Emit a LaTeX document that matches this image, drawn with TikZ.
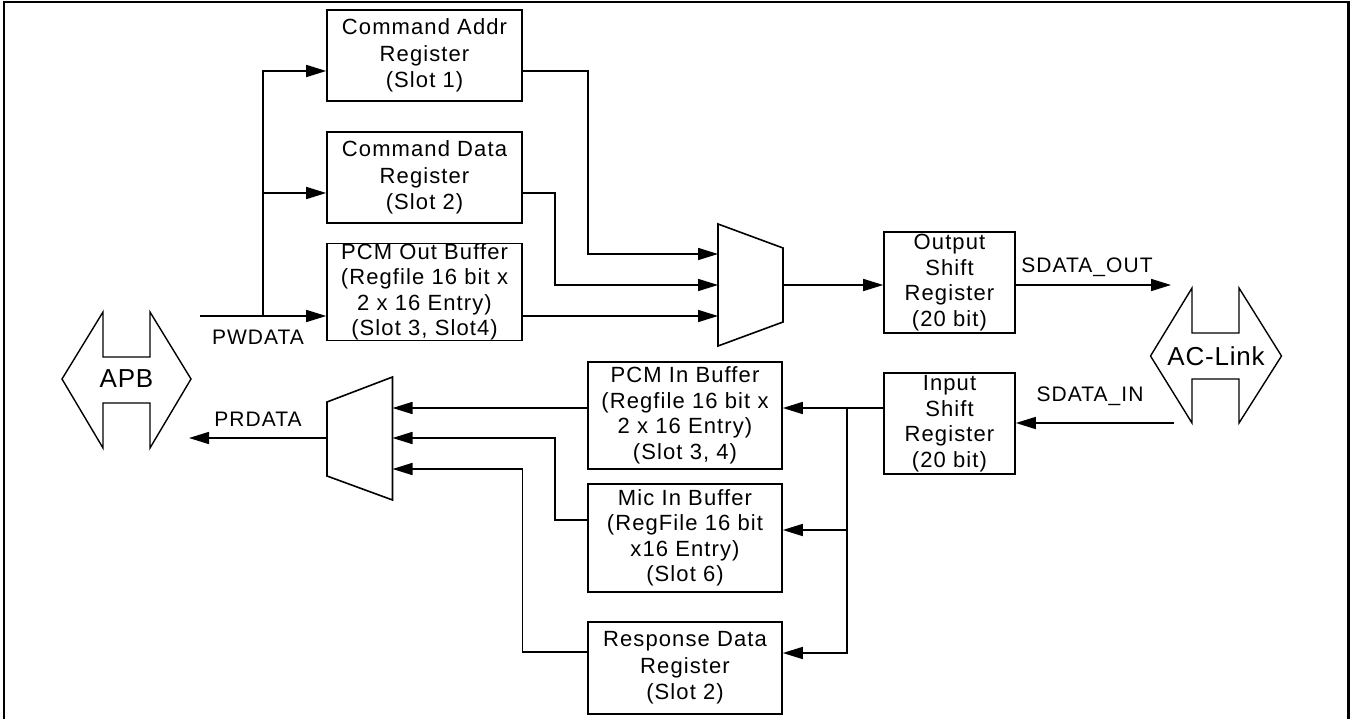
\documentclass[tikz,border=0pt]{standalone}
\usepackage{fontspec}
\usetikzlibrary{arrows.meta}
\newfontfamily\lfnt{Liberation Sans}[LetterSpace=5]
\newfontfamily\bigfnt{Liberation Sans}[LetterSpace=3]
\newcommand\boxfnt{\lfnt\fontsize{22}{26.5}\selectfont}
\newcommand\boxfntb{\lfnt\fontsize{22}{25.5}\selectfont}
\newcommand\lblfnt{\lfnt\fontsize{21}{25}\selectfont}
\newcommand\busfnt{\bigfnt\fontsize{26}{30}\selectfont}
\tikzset{
  box/.style={draw, line width=1.6pt, inner sep=0pt, align=center, font=\boxfnt},
  boxb/.style={box, font=\boxfntb},
  wire/.style={line width=1.6pt},
  arr/.style={line width=1.6pt, -{Triangle[length=20pt,width=12pt]}},
  shp/.style={line width=1.4pt, line join=miter},
  lbl/.style={inner sep=0pt, font=\lblfnt},
  buslbl/.style={inner sep=0pt, font=\busfnt}
}
\begin{document}
\begin{tikzpicture}[x=1pt,y=-1pt]
\useasboundingbox (0,0) rectangle (1354,719);
% outer frame
\draw[line width=2.4pt] (4,722) -- (4,2) -- (1348.5,2) -- (1348.5,722);

% boxes
\node[box, minimum width=195pt, minimum height=91pt] (cmdaddr) at (424.5,55.5) {Command Addr\\Register\\(Slot 1)};
\node[box, minimum width=195pt, minimum height=91pt] (cmddata) at (424.5,177.5) {Command Data\\Register\\(Slot 2)};
\node[boxb, minimum width=195pt, minimum height=92pt] (pcmout) at (424.5,292) {PCM Out Buffer\\(Regfile 16 bit x\\2 x 16 Entry)\\(Slot 3, Slot4)};
\node[boxb, minimum width=194pt, minimum height=107pt] (pcmin) at (685,415.5) {PCM In Buffer\\(Regfile 16 bit x\\2 x 16 Entry)\\(Slot 3, 4)};
\node[boxb, minimum width=194pt, minimum height=108pt] (micin) at (685,538) {Mic In Buffer\\(RegFile 16 bit\\x16 Entry)\\(Slot 6)};
\node[box, minimum width=194pt, minimum height=92pt] (resp) at (685,668) {Response Data\\Register\\(Slot 2)};
\node[boxb, minimum width=131pt, minimum height=101pt] (outsr) at (949.5,282.5) {Output\\Shift\\Register\\(20 bit)};
\node[boxb, minimum width=131pt, minimum height=101pt] (insr) at (949.5,423.5) {Input\\Shift\\Register\\(20 bit)};

% output mux
\draw[shp, line width=1.6pt] (718,224) -- (783,248) -- (783,322) -- (718,346) -- cycle;
\coordinate (m1a) at (718,254);
\coordinate (m1b) at (718,285);
\coordinate (m1c) at (718,316);
\coordinate (m1o) at (783,285);
% input mux
\draw[shp, line width=1.6pt] (327,402) -- (392.5,377) -- (392.5,500) -- (327,476) -- cycle;
\coordinate (m2a) at (392.5,408);
\coordinate (m2b) at (392.5,438);
\coordinate (m2c) at (392.5,469);
\coordinate (m2o) at (327,438);

% APB and AC-Link shapes
\draw[shp] (103,312) -- (103,357) -- (150,357) -- (150,312) -- (191,379) -- (150,448) -- (150,403) -- (103,403) -- (103,448) -- (62,379) -- cycle;
\node[buslbl] (apb) at (126.5,379) {APB};
\draw[shp] (1192,288) -- (1192,333) -- (1239,333) -- (1239,288) -- (1281.5,356) -- (1239,423) -- (1239,379) -- (1192,379) -- (1192,423) -- (1150.5,356) -- cycle;
\node[buslbl] (aclink) at (1216,356) {AC-Link};

% write path
\coordinate (pw) at (200,316);
\coordinate (bus) at (263,316);
\draw[arr] (pw) -- (pcmout.west |- pw);
\draw[arr] (bus) |- ([yshift=-15.5pt]cmdaddr.west);
\draw[arr] (bus |- cmddata.west) ++(0,15.5) -- ([yshift=-15.5pt]cmddata.west);
\draw[wire] (bus) -- (263,193);
\node[lbl] (pwdata) at (258,337) {PWDATA};

\draw[arr] ([yshift=-15.5pt]cmdaddr.east) -| (588,254) -- (m1a);
\draw[arr] ([yshift=-15.5pt]cmddata.east) -| (555,285) -- (m1b);
\draw[arr] ([yshift=-24pt]pcmout.east) -- (m1c);
\draw[arr] (m1o) -- (outsr.west |- m1o);
\coordinate (sdo) at (1171,285);
\draw[arr] (outsr.east |- m1o) -- (sdo);
\node[lbl] (sdataout) at (1087,267) {SDATA\_OUT};

% read path
\coordinate (sdi) at (1173.5,423);
\draw[arr] (sdi) -- (insr.east |- sdi);
\node[lbl] (sdatain) at (1090,396) {SDATA\_IN};
\coordinate (j1) at (847,408);
\coordinate (j2) at (847,530);
\coordinate (j3) at (847,653);
\draw[arr] ([yshift=15.5pt]insr.west) -- (pcmin.east |- j1);
\draw[arr] (j1) |- (micin.east |- j2);
\draw[arr] (j1) |- (resp.east |- j3);

\draw[arr] (pcmin.west |- j1) -- (m2a);
\draw[arr] ([yshift=18pt]micin.west) -| (555,438) -- (m2b);
\draw[arr] ([yshift=16pt]resp.west) -| (522.5,469) -- (m2c);
\coordinate (prd) at (189,438);
\draw[arr] (m2o) -- (prd);
\node[lbl] (prdata) at (258,419) {PRDATA};
\end{tikzpicture}
\end{document}
